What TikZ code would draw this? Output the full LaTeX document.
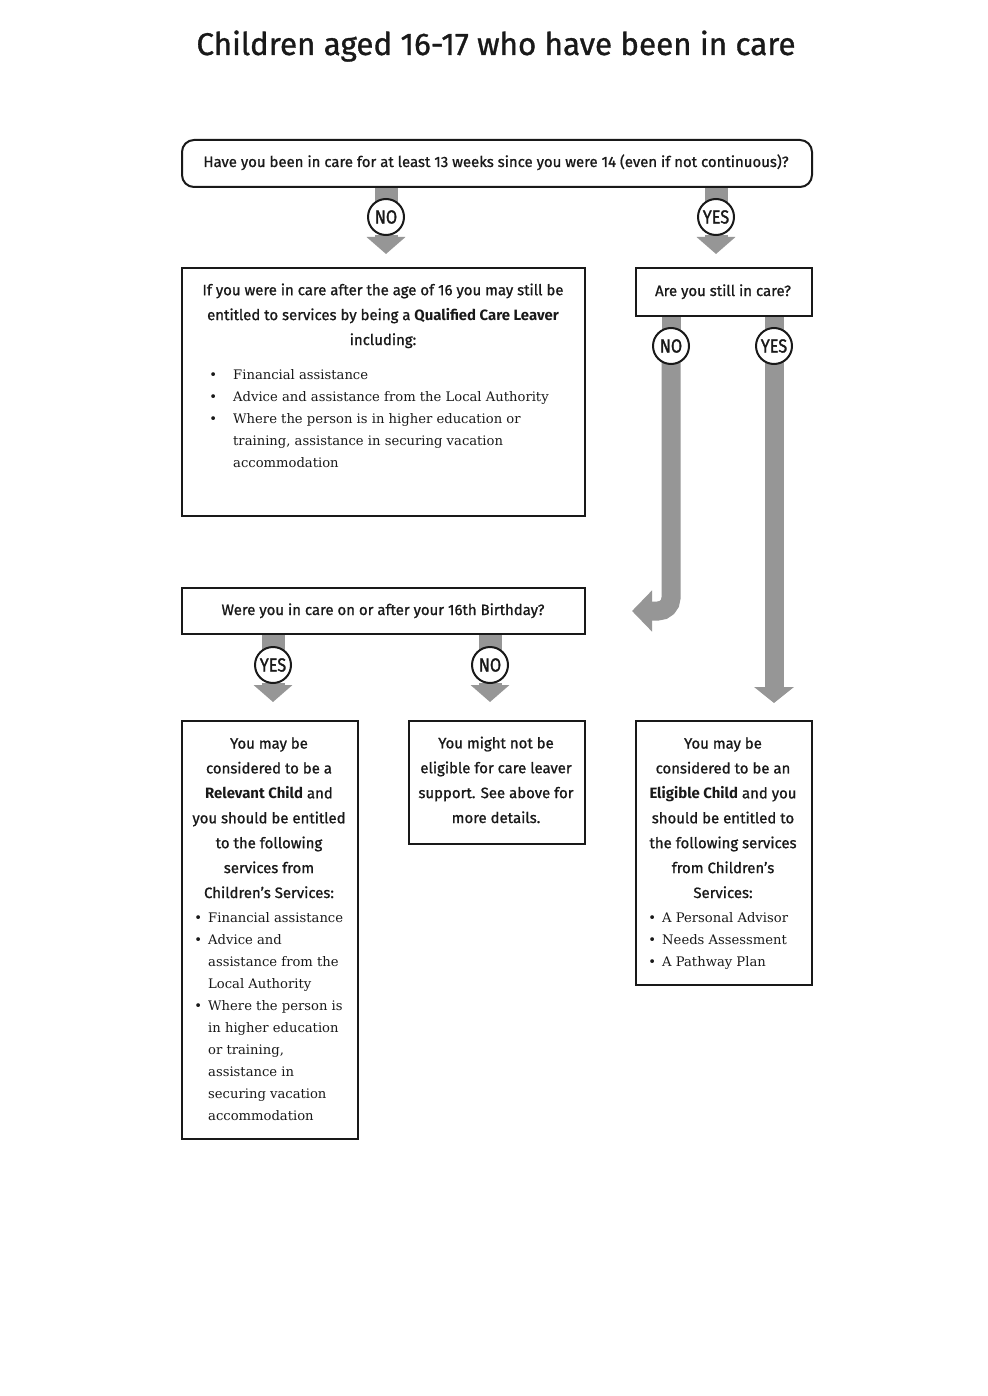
\documentclass[tikz,border=0pt]{standalone}
\usepackage{fontspec}
\setmainfont{DejaVu Serif}
\newfontfamily\fira[UprightFeatures={FakeBold=1}]{Fira Sans}
\newfontfamily\firac[UprightFeatures={FakeBold=1.6}]{Fira Sans}
\usetikzlibrary{arrows.meta,calc}
\definecolor{agray}{RGB}{150,150,150}
\definecolor{ink}{RGB}{25,25,25}
\newcommand{\bul}[1]{\llap{•\hspace{#1}}}
\newcommand{\cond}[1]{\scalebox{0.86}[1]{#1}}
\tikzset{
  box/.style={draw=ink, line width=2bp, inner sep=0, anchor=north west},
  circ/.style={circle, draw=ink, line width=2bp, fill=white, minimum size=36bp, inner sep=0, text=ink,
    font=\firac\fontsize{19}{19}\selectfont},
  sanstxt/.style={anchor=base, align=center, inner sep=0, text=ink, font=\fira\fontsize{15}{25}\selectfont},
  listtxt/.style={anchor=base west, align=left, inner sep=0, text=ink, font=\rmfamily\fontsize{13.2}{22}\selectfont},
  bigarrow/.style={agray, line width=23bp, -{Triangle[width=38bp,length=17bp]}},
  thinstem/.style={agray, line width=19bp},
  thinarrow/.style={agray, line width=19bp, -{Triangle[width=39bp,length=16bp]}},
}
\begin{document}
\begin{tikzpicture}[x=1bp,y=-1bp]
\fill[white] (0,0) rectangle (987,1396);
\useasboundingbox (0,0) rectangle (987,1396);

% title
\node[anchor=base, inner sep=0, text=ink, font=\fira\fontsize{31.5}{31.5}\selectfont] (title) at (496,55)
  {Children aged 16-17 who have been in care};

% boxes
\node[box, rounded corners=12bp, minimum width=630bp, minimum height=47bp] (q1) at (181,139) {};
\node[box, minimum width=403bp, minimum height=248bp] (qcl) at (181,267) {};
\node[box, minimum width=176bp, minimum height=48bp] (still) at (635,267) {};
\node[box, minimum width=403bp, minimum height=46bp] (bday) at (181,587) {};
\node[box, minimum width=176bp, minimum height=418bp] (rel) at (181,720) {};
\node[box, minimum width=176bp, minimum height=123bp] (mnot) at (408,720) {};
\node[box, minimum width=176bp, minimum height=264bp] (elig) at (635,720) {};

% stems and arrows (behind circles)
\coordinate (no1c) at (386,217);
\coordinate (yes1c) at (716,217);
\coordinate (no2c) at (671,346);
\coordinate (yes2c) at (774,346);
\coordinate (yes3c) at (273,665);
\coordinate (no3c) at (490,665);
\coordinate (back) at (632,611);

\draw[agray, line width=23bp] (q1.south -| no1c) -- (no1c);
\draw[bigarrow] ($(no1c)+(0,18)$) -- ++(0,19);
\draw[agray, line width=23bp] (q1.south -| yes1c) -- (yes1c);
\draw[bigarrow] ($(yes1c)+(0,18)$) -- ++(0,19);

\draw[agray, line width=23bp] (bday.south -| yes3c) -- (yes3c);
\draw[bigarrow] ($(yes3c)+(0,18)$) -- ++(0,19);
\draw[agray, line width=23bp] (bday.south -| no3c) -- (no3c);
\draw[bigarrow] ($(no3c)+(0,18)$) -- ++(0,19);

\draw[thinstem] (still.south -| no2c) -- (no2c);
\draw[agray, line width=19bp, rounded corners=13bp, -{Triangle[width=40bp,length=20bp]}]
  (no2c) -- (no2c |- back) -- (back);
\draw[thinstem] (still.south -| yes2c) -- (yes2c);
\draw[thinarrow] (yes2c) -- ($(elig.north -| yes2c)+(0,-17)$);

% circles
\node[circ] (no1) at (no1c) {\cond{NO}};
\node[circ] (yes1) at (yes1c) {\cond{YES}};
\node[circ] (no2) at (no2c) {\cond{NO}};
\node[circ] (yes2) at (yes2c) {\cond{YES}};
\node[circ] (yes3) at (yes3c) {\cond{YES}};
\node[circ] (no3) at (no3c) {\cond{NO}};

% texts (base anchor = baseline of last line)
\node[sanstxt] (t1) at (496,167) {Have you been in care for at least 13 weeks since you were 14 (even if not continuous)?};
\node[sanstxt] (t2) at (383,345) {If you were in care after the age of 16 you may still be\\entitled to services by being a \textbf{Qualified Care Leaver}\\including:};
\node[listtxt] (l2) at (233,467) {\bul{16bp}Financial assistance\\
  \bul{16bp}Advice and assistance from the Local Authority\\
  \bul{16bp}Where the person is in higher education or\\
  training, assistance in securing vacation\\
  accommodation};
\node[sanstxt] (t3) at (723,296) {Are you still in care?};
\node[sanstxt] (t4) at (383,615) {Were you in care on or after your 16th Birthday?};
\node[sanstxt] (t5) at (269,898) {You may be\\considered to be a\\\textbf{Relevant Child} and\\you should be entitled\\to the following\\services from\\Children’s Services:};
\node[listtxt] (l5) at (208,1120) {\bul{6bp}Financial assistance\\
  \bul{6bp}Advice and\\assistance from the\\Local Authority\\
  \bul{6bp}Where the person is\\in higher education\\or training,\\assistance in\\securing vacation\\accommodation};
\node[sanstxt] (t6) at (496,823) {You might not be\\eligible for care leaver\\support. See above for\\more details.};
\node[sanstxt] (t7) at (723,898) {You may be\\considered to be an\\\textbf{Eligible Child} and you\\should be entitled to\\the following services\\from Children’s\\Services:};
\node[listtxt] (l7) at (662,966) {\bul{6bp}A Personal Advisor\\
  \bul{6bp}Needs Assessment\\
  \bul{6bp}A Pathway Plan};
\end{tikzpicture}
\end{document}
